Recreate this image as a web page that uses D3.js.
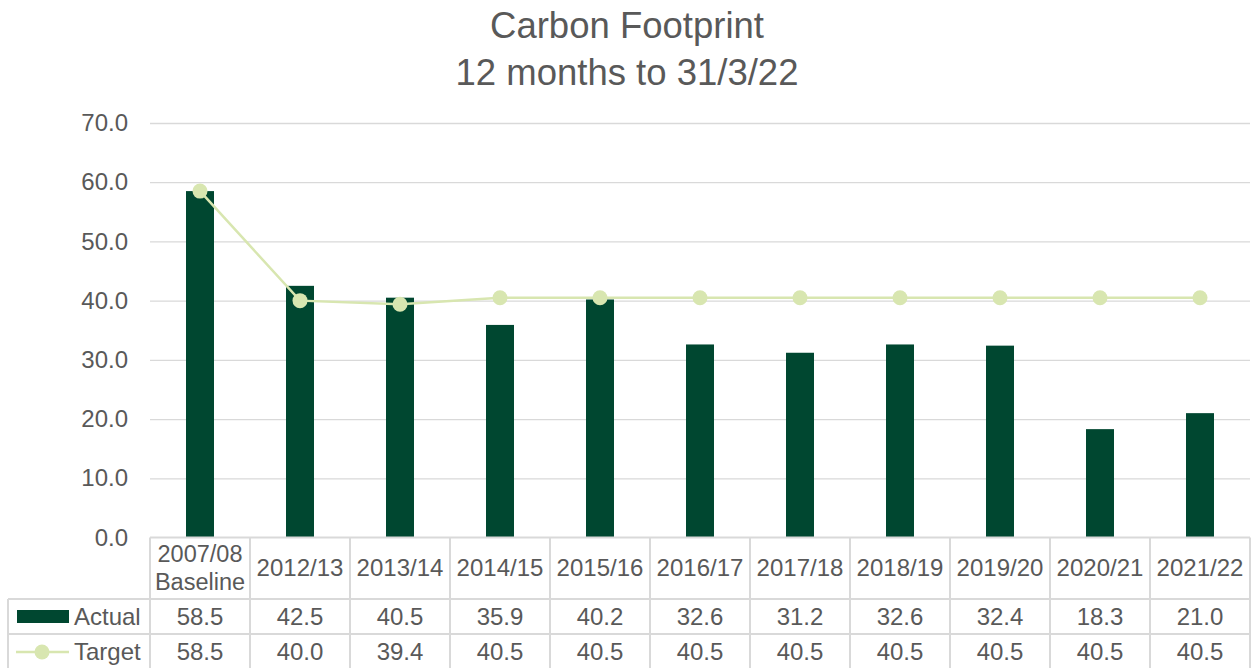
<!DOCTYPE html>
<html>
<head>
<meta charset="utf-8">
<script src="https://cdn.jsdelivr.net/npm/d3@7"></script>
<style>
  html, body { margin: 0; padding: 0; background: #ffffff; }
  svg { display: block; font-family: "Liberation Sans", Arial, sans-serif; }
</style>
</head>
<body>
<svg id="chart" width="1254" height="668"></svg>
<script>
// Financial years shown along the x axis (first one wraps onto two lines)
const categories = ["2007/08\nBaseline", "2012/13", "2013/14", "2014/15", "2015/16",
  "2016/17", "2017/18", "2018/19", "2019/20", "2020/21", "2021/22"];
// Measured carbon footprint per year
const actual = [58.5, 42.5, 40.5, 35.9, 40.2, 32.6, 31.2, 32.6, 32.4, 18.3, 21.0];
// Target footprint per year
const target = [58.5, 40.0, 39.4, 40.5, 40.5, 40.5, 40.5, 40.5, 40.5, 40.5, 40.5];
// Y axis ticks
const yTicks = [0, 10, 20, 30, 40, 50, 60, 70];
const titleLines = ["Carbon Footprint", "12 months to 31/3/22"];
const seriesNames = ["Actual", "Target"];

const textColor = "#595959";
const gridColor = "#d9d9d9";
const barColor = "#004730";
const lineColor = "#d8e6b0";
const fontSize = 24;

const svg = d3.select("#chart");
const plotLeft = 150, plotRight = 1250, plotTop = 123, plotBottom = 537.5;

const x = d3.scaleBand().domain(categories).range([plotLeft, plotRight]);
const y = d3.scaleLinear().domain([0, 70]).range([plotBottom, plotTop]);
const cxOf = i => x(categories[i]) + x.bandwidth() / 2;

// Title
svg.append("g").selectAll("text").data(titleLines).join("text")
  .attr("x", 627)
  .attr("y", (d, i) => 38 + i * 47)
  .attr("text-anchor", "middle")
  .attr("font-size", 36.5)
  .attr("fill", textColor)
  .text(d => d);

// Gridlines and y tick labels
const yAxis = svg.append("g")
  .attr("transform", `translate(${plotLeft},0)`)
  .call(d3.axisLeft(y).tickValues(yTicks).tickFormat(d3.format(".1f"))
    .tickSize(-(plotRight - plotLeft)).tickPadding(22));
yAxis.select(".domain").remove();
yAxis.selectAll(".tick line").attr("stroke", gridColor).attr("stroke-width", 1.3)
  .filter(d => d === 0).remove();
yAxis.selectAll(".tick text")
  .attr("font-size", fontSize)
  .attr("fill", textColor)
  .attr("font-family", "'Liberation Sans', Arial, sans-serif");

// Actual bars
const barW = 28;
svg.append("g").selectAll("rect").data(actual).join("rect")
  .attr("x", (d, i) => cxOf(i) - barW / 2)
  .attr("width", barW)
  .attr("y", d => y(d))
  .attr("height", d => y(0) - y(d))
  .attr("fill", barColor);

// Target line with markers
const line = d3.line()
  .x((d, i) => cxOf(i))
  .y(d => y(d));
svg.append("path").datum(target)
  .attr("d", line)
  .attr("fill", "none")
  .attr("stroke", lineColor)
  .attr("stroke-width", 2.5);
svg.append("g").selectAll("circle").data(target).join("circle")
  .attr("cx", (d, i) => cxOf(i))
  .attr("cy", d => y(d))
  .attr("r", 7.5)
  .attr("fill", lineColor);

// Data table below the plot
const rowTop = plotBottom, headerBottom = 599, row1Bottom = 634, row2Bottom = 669;
const tableLeft = 8;
const tbl = svg.append("g").attr("stroke", gridColor).attr("stroke-width", 2);
// horizontal rules
tbl.append("line").attr("x1", plotLeft).attr("x2", plotRight).attr("y1", rowTop).attr("y2", rowTop);
[headerBottom, row1Bottom, row2Bottom].forEach(yy => {
  tbl.append("line").attr("x1", tableLeft).attr("x2", plotRight).attr("y1", yy).attr("y2", yy);
});
// vertical rules
const edges = categories.map(c => x(c)).concat([plotRight]);
edges.forEach(xx => {
  tbl.append("line").attr("x1", xx).attr("x2", xx).attr("y1", rowTop).attr("y2", row2Bottom);
});
tbl.append("line").attr("x1", tableLeft).attr("x2", tableLeft)
  .attr("y1", headerBottom).attr("y2", row2Bottom);

// Header labels
const header = svg.append("g").selectAll("text").data(categories).join("text")
  .attr("text-anchor", "middle")
  .attr("font-size", fontSize)
  .attr("fill", textColor);
header.each(function (d, i) {
  const parts = d.split("\n");
  const cx = cxOf(i);
  const t = d3.select(this);
  if (parts.length === 1) {
    t.append("tspan").attr("x", cx).attr("y", 576).text(parts[0]);
  } else {
    t.attr("font-size", 23.5);
    t.append("tspan").attr("x", cx).attr("y", 562).text(parts[0]);
    t.append("tspan").attr("x", cx).attr("y", 590).text(parts[1]);
  }
});

// Value rows
const rows = [actual, target];
const rowY = [625, 660];
rows.forEach((vals, r) => {
  svg.append("g").selectAll("text").data(vals).join("text")
    .attr("x", (d, i) => cxOf(i))
    .attr("y", rowY[r])
    .attr("text-anchor", "middle")
    .attr("font-size", fontSize)
    .attr("fill", textColor)
    .text(d => d3.format(".1f")(d));
});

// Legend keys in the row headers
const leg = svg.append("g");
leg.append("rect").attr("x", 17).attr("y", 610).attr("width", 52).attr("height", 13).attr("fill", barColor);
leg.append("line").attr("x1", 16).attr("x2", 69).attr("y1", 652).attr("y2", 652)
  .attr("stroke", lineColor).attr("stroke-width", 2.5);
leg.append("circle").attr("cx", 42).attr("cy", 652).attr("r", 7.5).attr("fill", lineColor);
leg.selectAll("text").data(seriesNames).join("text")
  .attr("x", 74)
  .attr("y", (d, i) => rowY[i])
  .attr("font-size", fontSize)
  .attr("fill", textColor)
  .text(d => d);
</script>
</body>
</html>
